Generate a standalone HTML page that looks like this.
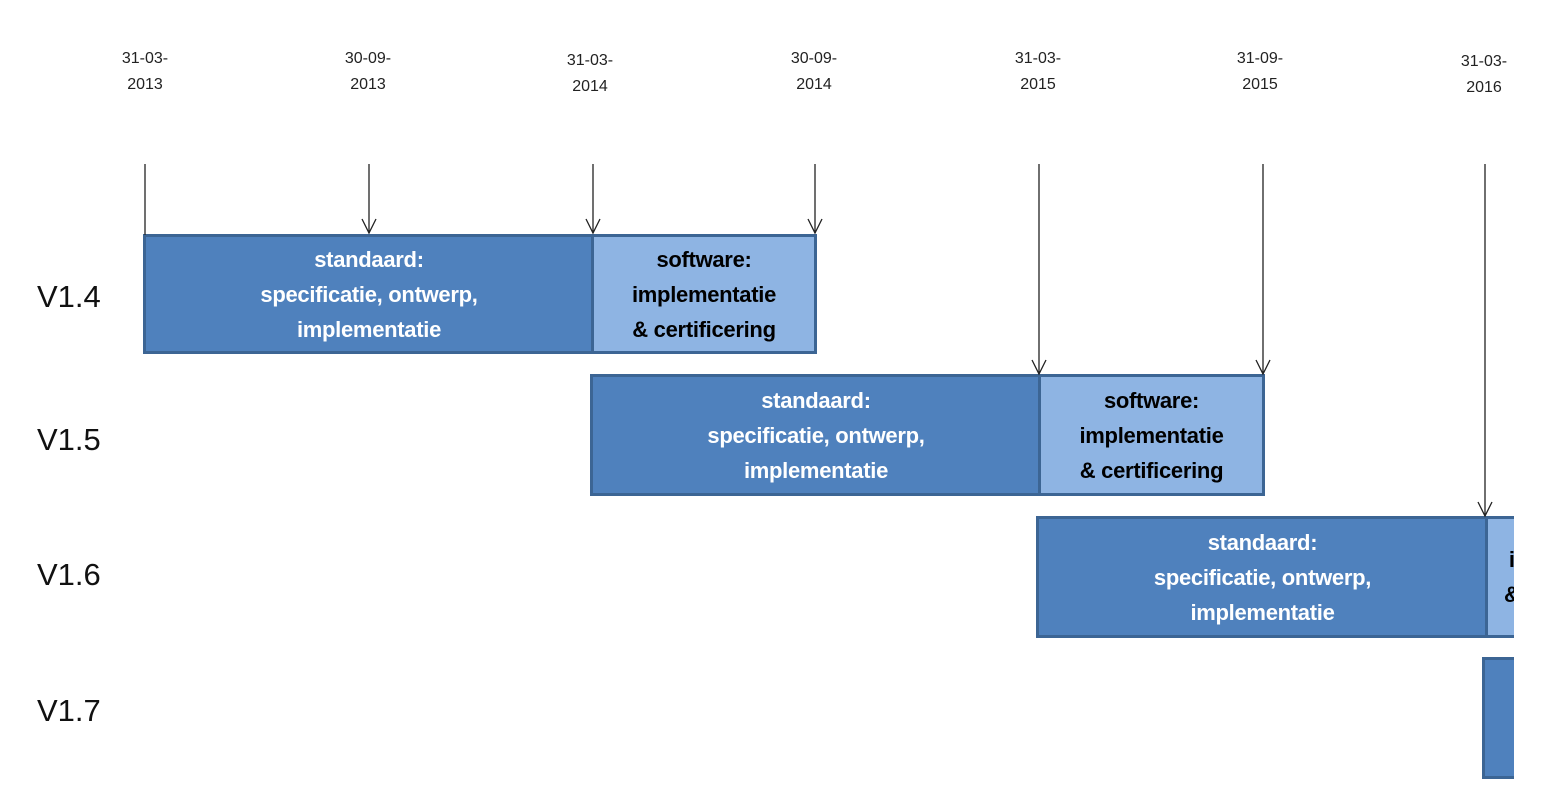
<!DOCTYPE html>
<html><head><style>
body{margin:0;width:1567px;height:808px;background:#fff;position:relative;overflow:hidden;font-family:"Liberation Sans",sans-serif}
.d{position:absolute;width:100px;text-align:center;font-size:16px;line-height:26px;color:#222}
.v{position:absolute;left:37px;font-size:31px;color:#111}
.b{position:absolute;box-sizing:border-box;border:3px solid #3c6594;display:flex;align-items:center;justify-content:center;text-align:center;font-weight:bold;font-size:22px;line-height:35px;letter-spacing:-0.3px}
.s{background:#4f81bd;color:#fff}
.w{background:#8eb4e3;color:#000}
</style></head><body>
<div class="d" style="left:95px;top:46px">31-03-<br>2013</div>
<div class="d" style="left:318px;top:46px">30-09-<br>2013</div>
<div class="d" style="left:540px;top:48px">31-03-<br>2014</div>
<div class="d" style="left:764px;top:46px">30-09-<br>2014</div>
<div class="d" style="left:988px;top:46px">31-03-<br>2015</div>
<div class="d" style="left:1210px;top:46px">31-09-<br>2015</div>
<div class="d" style="left:1434px;top:49px">31-03-<br>2016</div>

<div class="v" style="top:279px">V1.4</div>
<div class="v" style="top:422px">V1.5</div>
<div class="v" style="top:557px">V1.6</div>
<div class="v" style="top:693px">V1.7</div>

<div class="b s" style="left:143px;top:234px;width:452px;height:120px">standaard:<br>specificatie, ontwerp,<br>implementatie</div>
<div class="b w" style="left:591px;top:234px;width:226px;height:120px">software:<br>implementatie<br>&amp; certificering</div>
<div class="b s" style="left:590px;top:374px;width:452px;height:122px">standaard:<br>specificatie, ontwerp,<br>implementatie</div>
<div class="b w" style="left:1038px;top:374px;width:227px;height:122px">software:<br>implementatie<br>&amp; certificering</div>
<div class="b s" style="left:1036px;top:516px;width:453px;height:122px">standaard:<br>specificatie, ontwerp,<br>implementatie</div>
<div class="b w" style="left:1485px;top:516px;width:40px;height:122px;justify-content:flex-start;padding-left:16px">i<br>&amp;</div>
<div class="b s" style="left:1482px;top:657px;width:40px;height:122px"></div>
<div style="position:absolute;left:1514px;top:0;width:53px;height:808px;background:#fff"></div>

<svg width="1567" height="808" style="position:absolute;left:0;top:0" fill="none" stroke="#222" stroke-width="1.3">
<line x1="145" y1="164" x2="145" y2="235"/>
<g><line x1="369" y1="164" x2="369" y2="233"/><polyline points="362,219 369,233 376,219"/></g>
<g><line x1="593" y1="164" x2="593" y2="233"/><polyline points="586,219 593,233 600,219"/></g>
<g><line x1="815" y1="164" x2="815" y2="233"/><polyline points="808,219 815,233 822,219"/></g>
<g><line x1="1039" y1="164" x2="1039" y2="374"/><polyline points="1032,360 1039,374 1046,360"/></g>
<g><line x1="1263" y1="164" x2="1263" y2="374"/><polyline points="1256,360 1263,374 1270,360"/></g>
<g><line x1="1485" y1="164" x2="1485" y2="516"/><polyline points="1478,502 1485,516 1492,502"/></g>
</svg>
</body></html>
